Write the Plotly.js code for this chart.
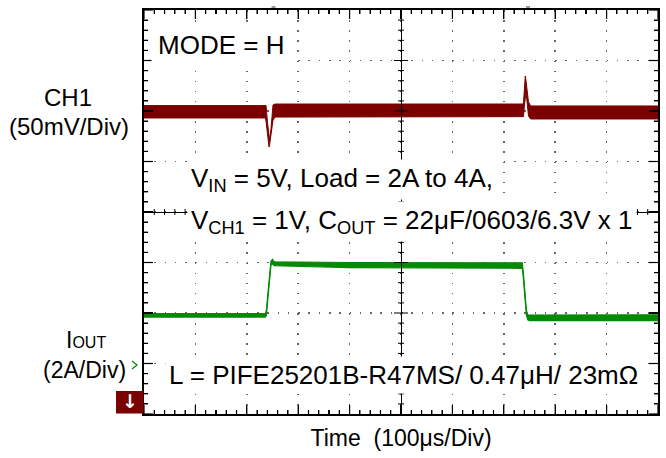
<!DOCTYPE html>
<html><head><meta charset="utf-8">
<script src="https://cdn.plot.ly/plotly-3.0.1.min.js"></script>
<style>html,body{margin:0;padding:0;background:#fff;}#chart{width:666px;height:458px;}</style>
</head><body><div id="chart"></div>
<script>
// ---- data (time in µs, 100 µs/div) ----
const ch1Time  = [0, 120, 236, 237.4, 240, 243.2, 244.2, 247, 251, 255, 400, 600, 736.5, 738.3, 740, 741.8, 743.2, 745.5, 748, 752.3, 800, 1000];
const ch1Upper = [5.4, 5.4, 5.4, 5.4, -10, -26, -28.7, -18, 6, 6.9, 6.9, 6.9, 6.9, 8, 22, 34.7, 30, 18, 9, 5.0, 5.0, 5.0];   // mV
const ch1Lower = [-6.9, -6.9, -6.9, -10, -22, -35.6, -34, -22, -9, -6, -5.8, -5.6, -5.6, -5.6, 5, 15, 18.8, 8, -5, -7.9, -7.9, -7.9]; // mV
const ioutTime  = [0, 236, 238, 242, 247, 250, 253, 400, 600, 736, 738, 741, 744, 747, 750, 1000];
const ioutUpper = [1.98, 1.98, 2.1, 3.0, 4.05, 4.13, 4.03, 4.0, 3.99, 3.99, 3.6, 2.8, 2.1, 1.92, 1.92, 1.93]; // A
const ioutLower = [1.84, 1.84, 1.9, 2.9, 3.9, 3.95, 3.87, 3.8, 3.77, 3.77, 3.4, 2.6, 1.9, 1.72, 1.70, 1.70];  // A

const xTitle = 'Time  (100μs/Div)';
const ch1Label = ['CH1', '(50mV/Div)'];
const ioutLabel = ['I<span style="font-size:16px">OUT</span>', '(2A/Div)'];
const notes = [
  'MODE = H',
  'V<sub>IN</sub> = 5V, Load = 2A to 4A,',
  'V<sub>CH1</sub> = 1V, C<sub>OUT</sub> = 22μF/0603/6.3V x 1',
  'L = PIFE25201B-R47MS/ 0.47μH/ 23mΩ'
];

const F = 'Arial, "Liberation Sans", sans-serif';
const RED = '#7b0000', GREEN = '#058a05';
const L = 144, T = 10, W = 514, H = 404;
const px = v => (v - L) / W, py = v => (T + H - v) / H;

const traces = [
  {x: ch1Time, y: ch1Lower, type: 'scatter', mode: 'lines', line: {color: RED, width: 1}, hoverinfo: 'skip', showlegend: false},
  {x: ch1Time, y: ch1Upper, type: 'scatter', mode: 'lines', fill: 'tonexty', fillcolor: RED, line: {color: RED, width: 1}, hoverinfo: 'skip', showlegend: false},
  {x: ioutTime, y: ioutLower, yaxis: 'y2', type: 'scatter', mode: 'lines', line: {color: GREEN, width: 1.2}, hoverinfo: 'skip', showlegend: false},
  {x: ioutTime, y: ioutUpper, yaxis: 'y2', type: 'scatter', mode: 'lines', fill: 'tonexty', fillcolor: GREEN, line: {color: GREEN, width: 1.2}, hoverinfo: 'skip', showlegend: false},
  {x: [null], y: [null], xaxis: 'x2', yaxis: 'y', type: 'scatter', mode: 'lines', hoverinfo: 'skip', showlegend: false},
  {x: [null], y: [null], xaxis: 'x', yaxis: 'y3', type: 'scatter', mode: 'lines', hoverinfo: 'skip', showlegend: false}
];

const frameX = {
  range: [0, 1000], tick0: 0, dtick: 100, ticks: 'inside', ticklen: 9, tickwidth: 1.3, tickcolor: '#000',
  showticklabels: false, showline: true, linecolor: '#000', linewidth: 2, mirror: 'ticks',
  showgrid: true, gridcolor: '#666', gridwidth: 1.5, griddash: '1.5px,8.6px', zeroline: false,
  minor: {tick0: 0, dtick: 20, ticks: 'inside', ticklen: 4, tickwidth: 1.1, tickcolor: '#000', showgrid: false},
  title: {text: xTitle, font: {family: F, size: 23, color: '#000'}, standoff: 15},
  fixedrange: true
};
const frameY = {
  range: [-300, 100], tick0: 0, dtick: 50, ticks: 'inside', ticklen: 9, tickwidth: 1.3, tickcolor: '#000',
  showticklabels: false, showline: true, linecolor: '#000', linewidth: 2, mirror: 'ticks',
  showgrid: true, gridcolor: '#666', gridwidth: 1.5, griddash: '1.5px,8.78px', zeroline: false,
  minor: {tick0: 0, dtick: 10, ticks: 'inside', ticklen: 4, tickwidth: 1.1, tickcolor: '#000', showgrid: false},
  fixedrange: true
};
// centre cross-hair lines (no ticks here; ticks are added below as shapes)
const centerX = {overlaying: 'x', anchor: 'free', position: 0.5, side: 'bottom', range: [0, 1000],
  ticks: '', showline: true, linecolor: '#000', linewidth: 1,
  showticklabels: false, showgrid: false, zeroline: false, fixedrange: true};
const centerY = {overlaying: 'y', anchor: 'free', position: 0.5, side: 'left', range: [-300, 100],
  ticks: '', showline: true, linecolor: '#000', linewidth: 1,
  showticklabels: false, showgrid: false, zeroline: false, fixedrange: true};

// graticule tick marks, placed on the axes' own scales
const tickShapes = [];
const tk = o => tickShapes.push(Object.assign({type: 'line', layer: 'above', line: {color: '#000', width: 1.2}}, o));
for (let t = 0; t <= 1000; t += 20) {
  const major = t % 100 === 0;
  const len = (major ? 9 : 4) / H;
  const c = (major ? 7 : 3) / H;
  tk({xref: 'x', yref: 'paper', x0: t, x1: t, y0: 0, y1: len});
  tk({xref: 'x', yref: 'paper', x0: t, x1: t, y0: 1, y1: 1 - len});
  if (t > 0 && t < 1000) tk({xref: 'x', yref: 'paper', x0: t, x1: t, y0: 0.5 - c, y1: 0.5 + c, line: {color: '#000', width: 1}});
}
for (let v = -300; v <= 100; v += 10) {
  const major = v % 50 === 0;
  const len = (major ? 9 : 4) / W;
  const c = (major ? 7 : 3) / W;
  tk({yref: 'y', xref: 'paper', y0: v, y1: v, x0: 0, x1: len});
  tk({yref: 'y', xref: 'paper', y0: v, y1: v, x0: 1, x1: 1 - len});
  if (v > -300 && v < 100) tk({yref: 'y', xref: 'paper', y0: v, y1: v, x0: 0.5 - c, x1: 0.5 + c, line: {color: '#000', width: 1}});
}

const ann = (text, x, y, opt) => Object.assign({text: text, xref: 'paper', yref: 'paper', x: px(x), y: py(y),
  showarrow: false, xanchor: 'left', yanchor: 'middle', font: {family: F, size: 26, color: '#000'}}, opt || {});

const layout = {
  width: 666, height: 458,
  margin: {l: L, r: 666 - L - W, t: T, b: 458 - T - H, pad: 0},
  paper_bgcolor: '#fff', plot_bgcolor: '#fff',
  showlegend: false,
  xaxis: frameX,
  yaxis: frameY,
  yaxis2: {overlaying: 'y', range: [-2, 14], showline: false, ticks: '', showticklabels: false,
    showgrid: false, zeroline: false, fixedrange: true},
  xaxis2: centerX,
  yaxis3: centerY,
  annotations: [
    ann(notes[0], 151, 45, {bgcolor: '#fff', borderpad: 6}),
    ann(notes[1], 187, 179, {bgcolor: '#fff', borderpad: 3}),
    ann(notes[2], 187, 221, {bgcolor: '#fff', borderpad: 3}),
    ann(notes[3], 165, 375, {bgcolor: '#fff', borderpad: 3}),
    ann(ch1Label[0], 67.5, 97.5, {xanchor: 'center', font: {family: F, size: 24, color: '#000'}}),
    ann(ch1Label[1], 68.8, 126, {xanchor: 'center', font: {family: F, size: 24, color: '#000'}}),
    ann(ioutLabel[0], 86, 340, {xanchor: 'center', font: {family: F, size: 23, color: '#000'}}),
    ann(ioutLabel[1], 84, 370, {xanchor: 'center', font: {family: F, size: 23, color: '#000'}}),
    ann('<b>↓</b>', 130, 401, {xanchor: 'center', font: {family: '"DejaVu Sans", sans-serif', size: 19, color: '#fff'}})
  ],
  shapes: tickShapes.concat([
    {type: 'rect', xref: 'paper', yref: 'paper', x0: px(116), x1: px(143.5), y0: py(413.5), y1: py(391), fillcolor: RED, line: {width: 0}},
    {type: 'path', xref: 'paper', yref: 'paper', path: `M${px(132)},${py(361)} L${px(137)},${py(365)} L${px(132)},${py(369)}`, line: {color: GREEN, width: 1.3}},
    {type: 'line', xref: 'paper', yref: 'paper', x0: px(271.5), x1: px(275.5), y0: py(7), y1: py(7), line: {color: '#333', width: 1}},
    {type: 'line', xref: 'paper', yref: 'paper', x0: px(526), x1: px(530), y0: py(7), y1: py(7), line: {color: '#333', width: 1}}
  ])
};

Plotly.newPlot('chart', traces, layout, {displayModeBar: false, staticPlot: true});
</script></body></html>
